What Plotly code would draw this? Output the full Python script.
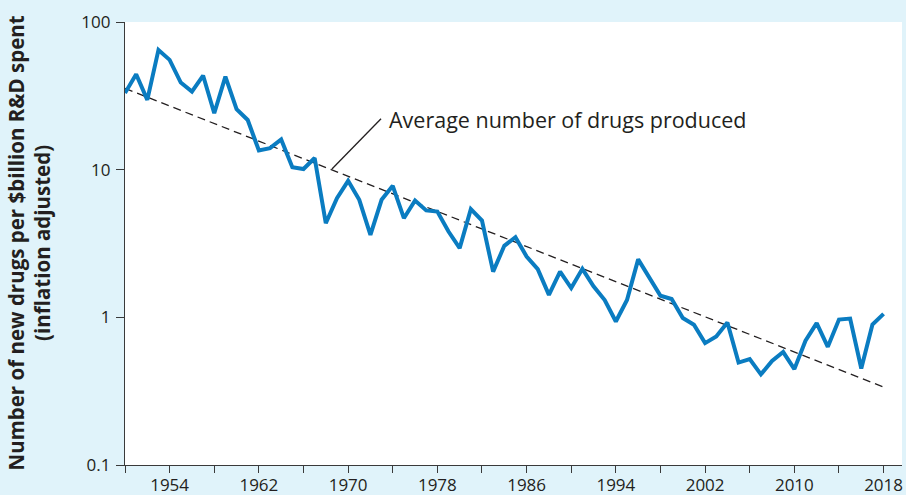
import plotly.graph_objects as go
import math

years = list(range(1950, 2019))
drugs_per_billion = [
    33.0, 44.3, 29.7, 64.7, 55.4, 38.9, 33.8, 43.4, 24.1, 42.7,
    25.7, 21.7, 13.5, 14.0, 16.0, 10.4, 10.1, 12.0, 4.34, 6.41,
    8.40, 6.25, 3.62, 6.25, 7.77, 4.69, 6.18, 5.30, 5.20, 3.81,
    2.94, 5.40, 4.52, 2.04, 3.05, 3.49, 2.58, 2.12, 1.42, 2.04,
    1.58, 2.13, 1.62, 1.31, 0.937, 1.31, 2.47, 1.87, 1.40, 1.33,
    0.99, 0.89, 0.669, 0.741, 0.922, 0.494, 0.521, 0.411, 0.506, 0.582,
    0.446, 0.695, 0.913, 0.631, 0.966, 0.980, 0.450, 0.894, 1.056,
]
trend_years = [1950, 2018]
trend_values = [35.5, 0.337]
leader_years = [1968.55, 1972.95]
leader_values = [10.1, 22.1]
label_text = "Average number of drugs produced"
label_year = 1973.45
label_value = 21.8
y_title = "<b>Number of new drugs per $billion R&D spent<br>(inflation adjusted)</b>"

x_tickvals = list(range(1950, 2019, 4))
x_ticktext = [str(y) if (y - 1954) % 8 == 0 else "" for y in x_tickvals]
y_tickvals = [0.1, 1, 10, 100]
y_ticktext = ["0.1", "1", "10", "100"]

BG = "#E0F3FA"
BLUE = "#0A7CC1"
DARK = "#231F20"
AX = "#3A3A3A"

fig = go.Figure()
fig.add_trace(go.Scatter(
    x=trend_years, y=trend_values, mode="lines",
    line=dict(color=DARK, width=1.3, dash="8px,5px"),
    hoverinfo="skip", showlegend=False))
fig.add_trace(go.Scatter(
    x=leader_years, y=leader_values, mode="lines",
    line=dict(color=DARK, width=1.3),
    hoverinfo="skip", showlegend=False))
fig.add_trace(go.Scatter(
    x=years, y=drugs_per_billion, mode="lines",
    line=dict(color=BLUE, width=4, shape="linear"),
    cliponaxis=False, showlegend=False))

fig.add_annotation(
    x=label_year, y=math.log10(label_value), xref="x", yref="y",
    text=label_text, showarrow=False, xanchor="left", yanchor="middle",
    font=dict(family="Open Sans", size=21.5, color=DARK))

fig.add_annotation(
    x=-96 / 777, y=0.5, xref="paper", yref="paper",
    text=y_title, textangle=-90, showarrow=False,
    xanchor="center", yanchor="middle",
    font=dict(family="Open Sans", size=20.5, color=DARK))

fig.update_layout(
    width=906, height=495,
    margin=dict(l=125, r=4, t=22, b=30),
    paper_bgcolor=BG, plot_bgcolor="white",
    font=dict(family="Open Sans", color=DARK),
    xaxis=dict(
        range=[1950, 2019.65], tickmode="array", tickvals=x_tickvals, ticktext=x_ticktext,
        ticks="outside", ticklen=7, tickwidth=1.3, tickcolor=AX, automargin=False,
        showline=True, linecolor=AX, linewidth=1.3, showgrid=False, zeroline=False,
        ticklabelstandoff=-3,
        tickfont=dict(family="Open Sans", size=17, color=DARK)),
    yaxis=dict(
        type="log", range=[-1, 2], tickmode="array", tickvals=y_tickvals, ticktext=y_ticktext,
        ticks="outside", ticklen=8, tickwidth=1.3, tickcolor=AX, automargin=False,
        showline=True, linecolor=AX, linewidth=1.3, showgrid=False, zeroline=False,
        ticklabelstandoff=2,
        tickfont=dict(family="Open Sans", size=17, color=DARK)),
)

fig.write_html(
    "out.html",
    config={"displayModeBar": False},
    post_script="document.body.style.margin='0';document.body.style.overflow='hidden';",
)
